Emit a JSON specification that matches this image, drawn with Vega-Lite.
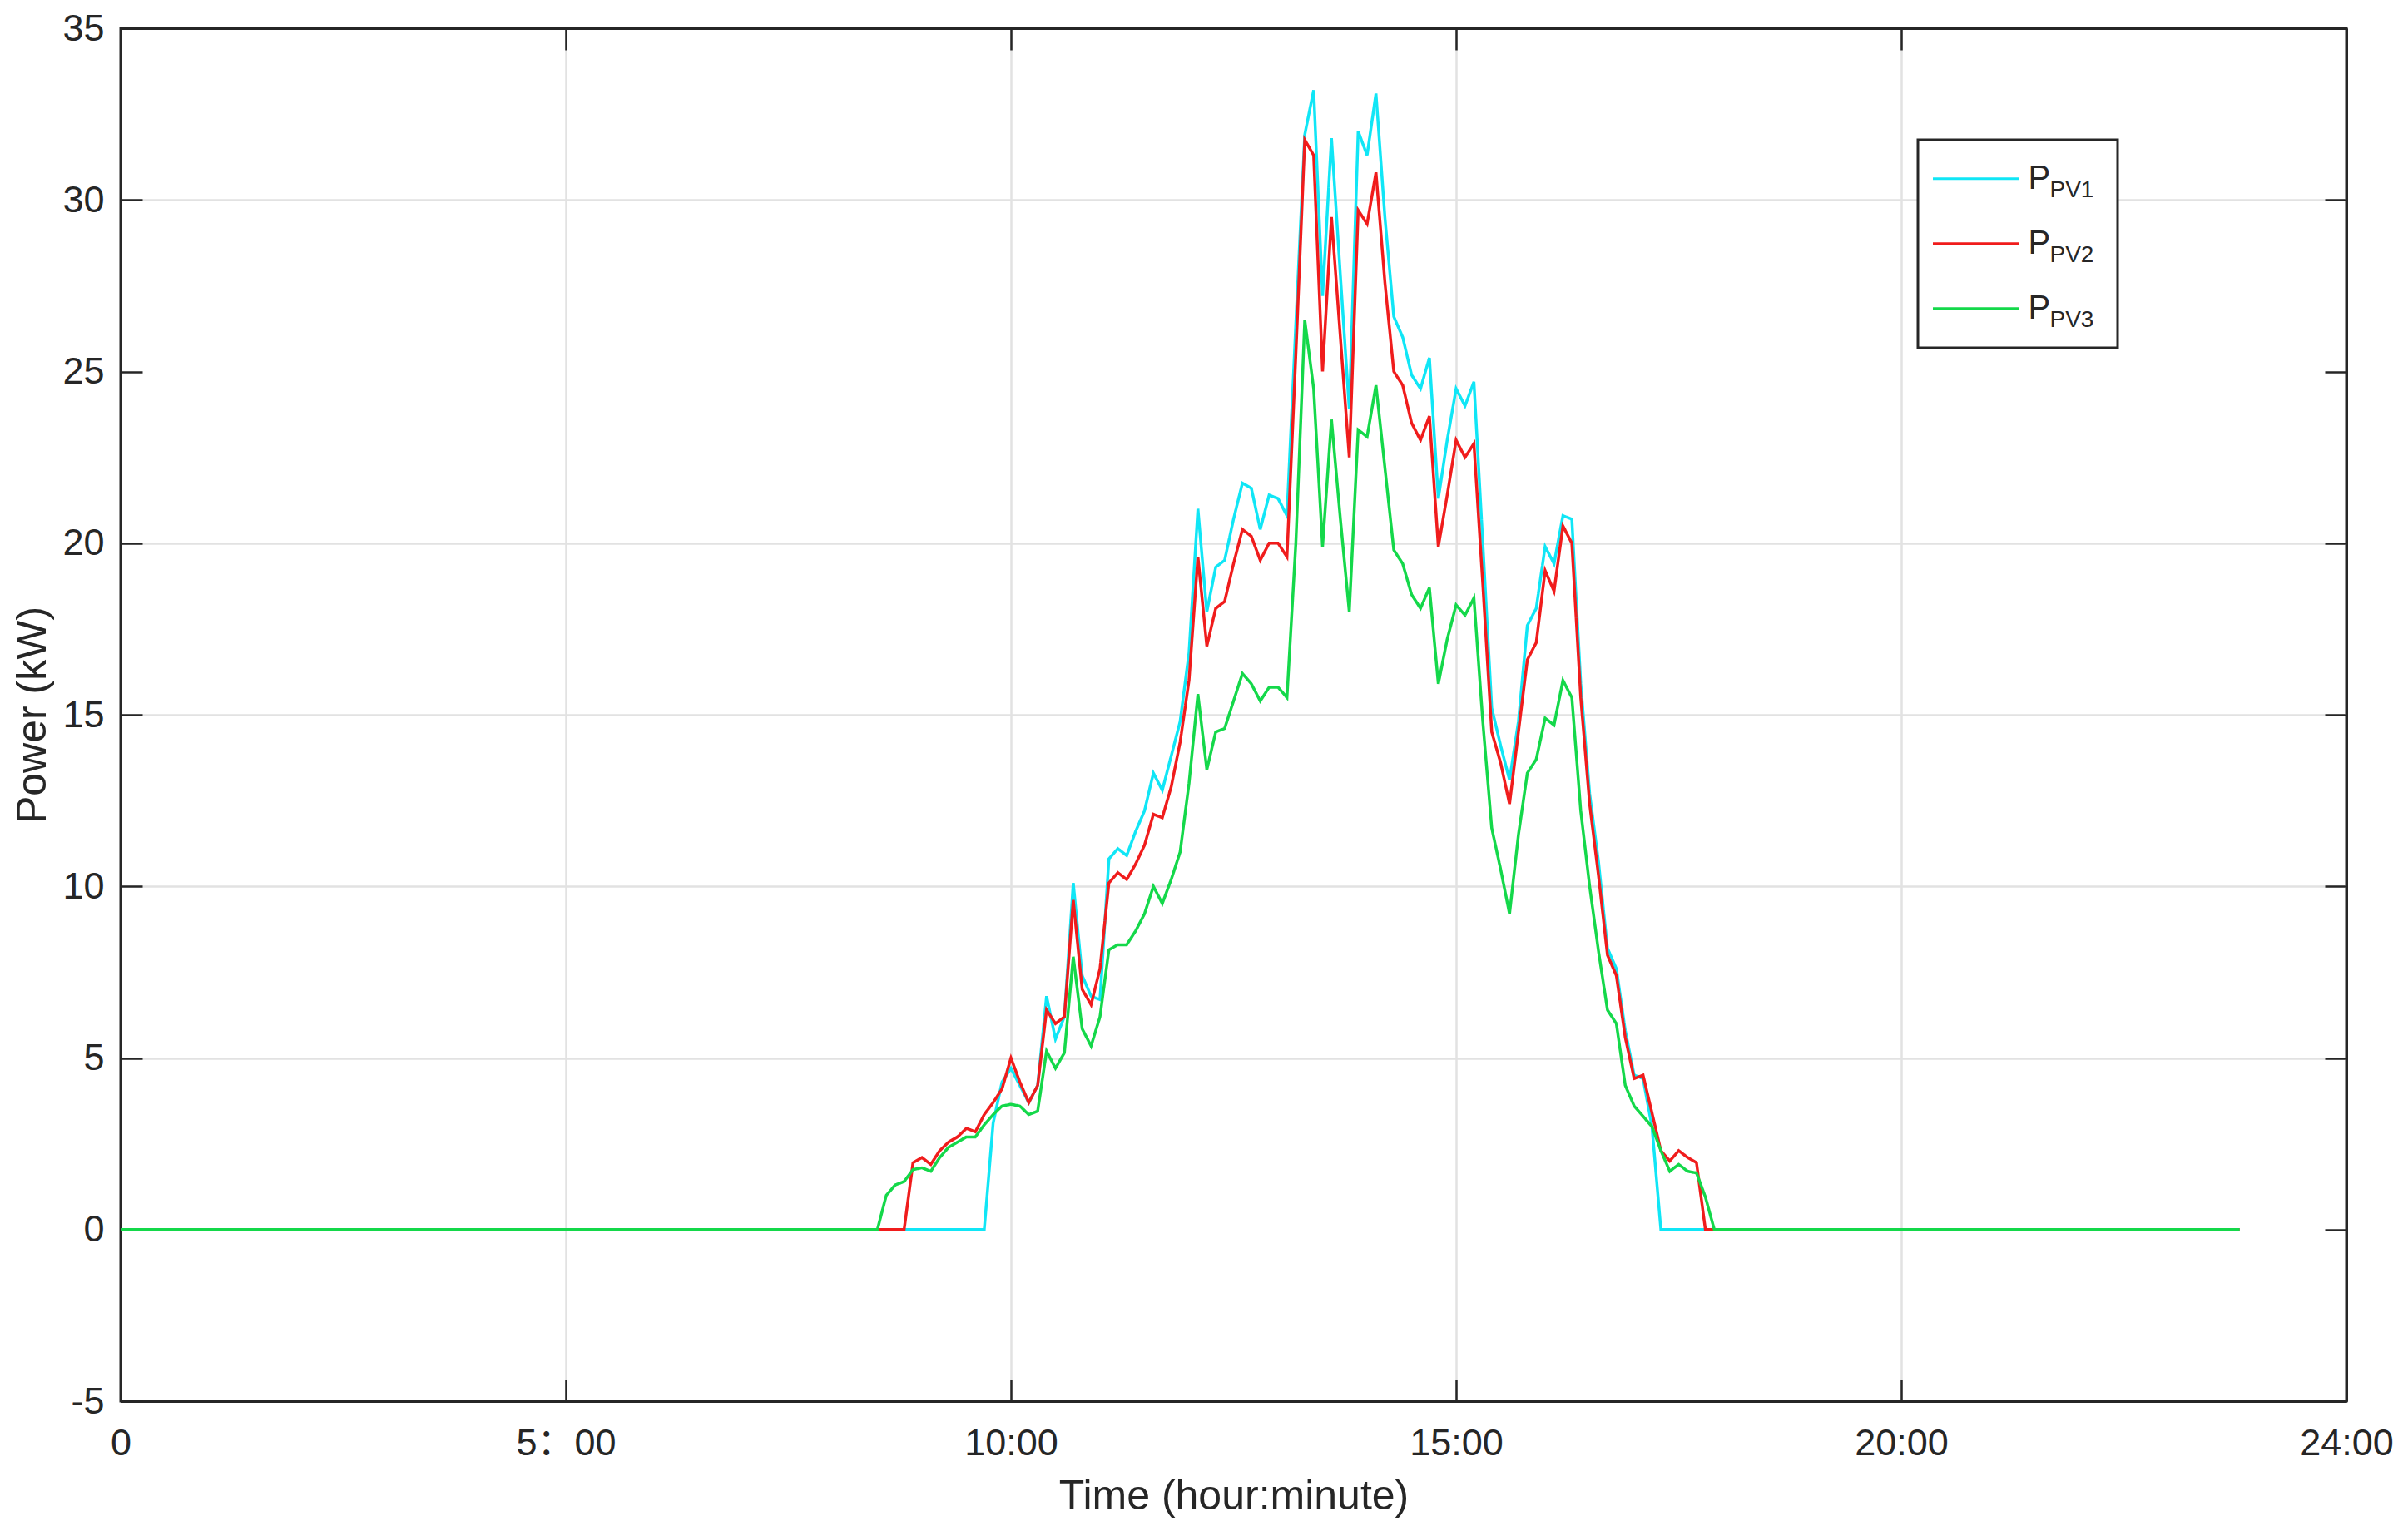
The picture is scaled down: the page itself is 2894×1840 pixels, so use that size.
{
  "$schema": "https://vega.github.io/schema/vega-lite/v6.json",
  "width": 2675,
  "height": 1650,
  "autosize": {"type": "none"},
  "padding": {"left": 145, "top": 34, "right": 74, "bottom": 156},
  "background": "white",
  "data": {"values": [
    {"h":0,"PV1":0,"PV2":0,"PV3":0},{"h":0.1,"PV1":0,"PV2":0,"PV3":0},{"h":0.2,"PV1":0,"PV2":0,"PV3":0},{"h":0.3,"PV1":0,"PV2":0,"PV3":0},{"h":0.4,"PV1":0,"PV2":0,"PV3":0},{"h":0.5,"PV1":0,"PV2":0,"PV3":0},{"h":0.6,"PV1":0,"PV2":0,"PV3":0},{"h":0.7,"PV1":0,"PV2":0,"PV3":0},{"h":0.8,"PV1":0,"PV2":0,"PV3":0},{"h":0.9,"PV1":0,"PV2":0,"PV3":0},
    {"h":1,"PV1":0,"PV2":0,"PV3":0},{"h":1.1,"PV1":0,"PV2":0,"PV3":0},{"h":1.2,"PV1":0,"PV2":0,"PV3":0},{"h":1.3,"PV1":0,"PV2":0,"PV3":0},{"h":1.4,"PV1":0,"PV2":0,"PV3":0},{"h":1.5,"PV1":0,"PV2":0,"PV3":0},{"h":1.6,"PV1":0,"PV2":0,"PV3":0},{"h":1.7,"PV1":0,"PV2":0,"PV3":0},{"h":1.8,"PV1":0,"PV2":0,"PV3":0},{"h":1.9,"PV1":0,"PV2":0,"PV3":0},
    {"h":2,"PV1":0,"PV2":0,"PV3":0},{"h":2.1,"PV1":0,"PV2":0,"PV3":0},{"h":2.2,"PV1":0,"PV2":0,"PV3":0},{"h":2.3,"PV1":0,"PV2":0,"PV3":0},{"h":2.4,"PV1":0,"PV2":0,"PV3":0},{"h":2.5,"PV1":0,"PV2":0,"PV3":0},{"h":2.6,"PV1":0,"PV2":0,"PV3":0},{"h":2.7,"PV1":0,"PV2":0,"PV3":0},{"h":2.8,"PV1":0,"PV2":0,"PV3":0},{"h":2.9,"PV1":0,"PV2":0,"PV3":0},
    {"h":3,"PV1":0,"PV2":0,"PV3":0},{"h":3.1,"PV1":0,"PV2":0,"PV3":0},{"h":3.2,"PV1":0,"PV2":0,"PV3":0},{"h":3.3,"PV1":0,"PV2":0,"PV3":0},{"h":3.4,"PV1":0,"PV2":0,"PV3":0},{"h":3.5,"PV1":0,"PV2":0,"PV3":0},{"h":3.6,"PV1":0,"PV2":0,"PV3":0},{"h":3.7,"PV1":0,"PV2":0,"PV3":0},{"h":3.8,"PV1":0,"PV2":0,"PV3":0},{"h":3.9,"PV1":0,"PV2":0,"PV3":0},
    {"h":4,"PV1":0,"PV2":0,"PV3":0},{"h":4.1,"PV1":0,"PV2":0,"PV3":0},{"h":4.2,"PV1":0,"PV2":0,"PV3":0},{"h":4.3,"PV1":0,"PV2":0,"PV3":0},{"h":4.4,"PV1":0,"PV2":0,"PV3":0},{"h":4.5,"PV1":0,"PV2":0,"PV3":0},{"h":4.6,"PV1":0,"PV2":0,"PV3":0},{"h":4.7,"PV1":0,"PV2":0,"PV3":0},{"h":4.8,"PV1":0,"PV2":0,"PV3":0},{"h":4.9,"PV1":0,"PV2":0,"PV3":0},
    {"h":5,"PV1":0,"PV2":0,"PV3":0},{"h":5.1,"PV1":0,"PV2":0,"PV3":0},{"h":5.2,"PV1":0,"PV2":0,"PV3":0},{"h":5.3,"PV1":0,"PV2":0,"PV3":0},{"h":5.4,"PV1":0,"PV2":0,"PV3":0},{"h":5.5,"PV1":0,"PV2":0,"PV3":0},{"h":5.6,"PV1":0,"PV2":0,"PV3":0},{"h":5.7,"PV1":0,"PV2":0,"PV3":0},{"h":5.8,"PV1":0,"PV2":0,"PV3":0},{"h":5.9,"PV1":0,"PV2":0,"PV3":0},
    {"h":6,"PV1":0,"PV2":0,"PV3":0},{"h":6.1,"PV1":0,"PV2":0,"PV3":0},{"h":6.2,"PV1":0,"PV2":0,"PV3":0},{"h":6.3,"PV1":0,"PV2":0,"PV3":0},{"h":6.4,"PV1":0,"PV2":0,"PV3":0},{"h":6.5,"PV1":0,"PV2":0,"PV3":0},{"h":6.6,"PV1":0,"PV2":0,"PV3":0},{"h":6.7,"PV1":0,"PV2":0,"PV3":0},{"h":6.8,"PV1":0,"PV2":0,"PV3":0},{"h":6.9,"PV1":0,"PV2":0,"PV3":0},
    {"h":7,"PV1":0,"PV2":0,"PV3":0},{"h":7.1,"PV1":0,"PV2":0,"PV3":0},{"h":7.2,"PV1":0,"PV2":0,"PV3":0},{"h":7.3,"PV1":0,"PV2":0,"PV3":0},{"h":7.4,"PV1":0,"PV2":0,"PV3":0},{"h":7.5,"PV1":0,"PV2":0,"PV3":0},{"h":7.6,"PV1":0,"PV2":0,"PV3":0},{"h":7.7,"PV1":0,"PV2":0,"PV3":0},{"h":7.8,"PV1":0,"PV2":0,"PV3":0},{"h":7.9,"PV1":0,"PV2":0,"PV3":0},
    {"h":8,"PV1":0,"PV2":0,"PV3":0},{"h":8.1,"PV1":0,"PV2":0,"PV3":0},{"h":8.2,"PV1":0,"PV2":0,"PV3":0},{"h":8.3,"PV1":0,"PV2":0,"PV3":0},{"h":8.4,"PV1":0,"PV2":0,"PV3":0},{"h":8.5,"PV1":0,"PV2":0,"PV3":0},
    {"h":8.6,"PV1":0,"PV2":0,"PV3":1.0},{"h":8.7,"PV1":0,"PV2":0,"PV3":1.3},{"h":8.8,"PV1":0,"PV2":0,"PV3":1.4},{"h":8.9,"PV1":0,"PV2":1.95,"PV3":1.75},
    {"h":9,"PV1":0,"PV2":2.1,"PV3":1.8},{"h":9.1,"PV1":0,"PV2":1.9,"PV3":1.7},{"h":9.2,"PV1":0,"PV2":2.3,"PV3":2.1},{"h":9.3,"PV1":0,"PV2":2.55,"PV3":2.4},{"h":9.4,"PV1":0,"PV2":2.7,"PV3":2.55},{"h":9.5,"PV1":0,"PV2":2.95,"PV3":2.7},{"h":9.6,"PV1":0,"PV2":2.85,"PV3":2.7},{"h":9.7,"PV1":0,"PV2":3.35,"PV3":3.05},{"h":9.8,"PV1":3.1,"PV2":3.7,"PV3":3.35},{"h":9.9,"PV1":4.3,"PV2":4.1,"PV3":3.6},
    {"h":10,"PV1":4.7,"PV2":5.0,"PV3":3.65},{"h":10.1,"PV1":4.2,"PV2":4.3,"PV3":3.6},{"h":10.2,"PV1":3.7,"PV2":3.7,"PV3":3.35},{"h":10.3,"PV1":4.2,"PV2":4.2,"PV3":3.45},{"h":10.4,"PV1":6.8,"PV2":6.4,"PV3":5.2},{"h":10.5,"PV1":5.55,"PV2":6.0,"PV3":4.7},{"h":10.6,"PV1":6.2,"PV2":6.2,"PV3":5.15},{"h":10.7,"PV1":10.1,"PV2":9.6,"PV3":7.95},{"h":10.8,"PV1":7.4,"PV2":7.0,"PV3":5.85},{"h":10.9,"PV1":6.8,"PV2":6.55,"PV3":5.35},
    {"h":11,"PV1":6.7,"PV2":7.6,"PV3":6.2},{"h":11.1,"PV1":10.8,"PV2":10.1,"PV3":8.15},{"h":11.2,"PV1":11.1,"PV2":10.4,"PV3":8.3},{"h":11.3,"PV1":10.9,"PV2":10.2,"PV3":8.3},{"h":11.4,"PV1":11.6,"PV2":10.65,"PV3":8.7},{"h":11.5,"PV1":12.2,"PV2":11.2,"PV3":9.2},{"h":11.6,"PV1":13.3,"PV2":12.1,"PV3":10.0},{"h":11.7,"PV1":12.8,"PV2":12.0,"PV3":9.5},{"h":11.8,"PV1":13.8,"PV2":12.9,"PV3":10.2},{"h":11.9,"PV1":14.8,"PV2":14.2,"PV3":11.0},
    {"h":12,"PV1":16.8,"PV2":16.0,"PV3":13.0},{"h":12.1,"PV1":21.0,"PV2":19.6,"PV3":15.6},{"h":12.2,"PV1":18.0,"PV2":17.0,"PV3":13.4},{"h":12.3,"PV1":19.3,"PV2":18.1,"PV3":14.5},{"h":12.4,"PV1":19.5,"PV2":18.3,"PV3":14.6},{"h":12.5,"PV1":20.7,"PV2":19.4,"PV3":15.4},{"h":12.6,"PV1":21.75,"PV2":20.4,"PV3":16.2},{"h":12.7,"PV1":21.6,"PV2":20.2,"PV3":15.9},{"h":12.8,"PV1":20.4,"PV2":19.5,"PV3":15.4},{"h":12.9,"PV1":21.4,"PV2":20.0,"PV3":15.8},
    {"h":13,"PV1":21.3,"PV2":20.0,"PV3":15.8},{"h":13.1,"PV1":20.8,"PV2":19.6,"PV3":15.5},{"h":13.2,"PV1":26.4,"PV2":25.5,"PV3":20.0},{"h":13.3,"PV1":31.9,"PV2":31.75,"PV3":26.5},{"h":13.4,"PV1":33.2,"PV2":31.3,"PV3":24.5},{"h":13.5,"PV1":27.2,"PV2":25.0,"PV3":19.9},{"h":13.6,"PV1":31.8,"PV2":29.5,"PV3":23.6},{"h":13.7,"PV1":27.8,"PV2":26.0,"PV3":20.7},{"h":13.8,"PV1":23.9,"PV2":22.5,"PV3":18.0},{"h":13.9,"PV1":32.0,"PV2":29.7,"PV3":23.3},
    {"h":14,"PV1":31.3,"PV2":29.3,"PV3":23.1},{"h":14.1,"PV1":33.1,"PV2":30.8,"PV3":24.6},{"h":14.2,"PV1":29.5,"PV2":27.6,"PV3":22.2},{"h":14.3,"PV1":26.6,"PV2":25.0,"PV3":19.8},{"h":14.4,"PV1":26.0,"PV2":24.6,"PV3":19.4},{"h":14.5,"PV1":24.9,"PV2":23.5,"PV3":18.5},{"h":14.6,"PV1":24.5,"PV2":23.0,"PV3":18.1},{"h":14.7,"PV1":25.4,"PV2":23.7,"PV3":18.7},{"h":14.8,"PV1":21.3,"PV2":19.9,"PV3":15.9},{"h":14.9,"PV1":23.0,"PV2":21.4,"PV3":17.2},
    {"h":15,"PV1":24.5,"PV2":23.0,"PV3":18.2},{"h":15.1,"PV1":24.0,"PV2":22.5,"PV3":17.9},{"h":15.2,"PV1":24.7,"PV2":22.9,"PV3":18.4},{"h":15.3,"PV1":20.0,"PV2":18.8,"PV3":14.8},{"h":15.4,"PV1":15.2,"PV2":14.5,"PV3":11.7},{"h":15.5,"PV1":14.1,"PV2":13.6,"PV3":10.5},{"h":15.6,"PV1":13.1,"PV2":12.4,"PV3":9.2},{"h":15.7,"PV1":14.8,"PV2":14.5,"PV3":11.5},{"h":15.8,"PV1":17.6,"PV2":16.6,"PV3":13.3},{"h":15.9,"PV1":18.1,"PV2":17.1,"PV3":13.7},
    {"h":16,"PV1":19.9,"PV2":19.2,"PV3":14.9},{"h":16.1,"PV1":19.4,"PV2":18.6,"PV3":14.7},{"h":16.2,"PV1":20.8,"PV2":20.5,"PV3":16.0},{"h":16.3,"PV1":20.7,"PV2":20.0,"PV3":15.5},{"h":16.4,"PV1":15.9,"PV2":15.5,"PV3":12.2},{"h":16.5,"PV1":12.7,"PV2":12.4,"PV3":10.0},{"h":16.6,"PV1":10.7,"PV2":10.3,"PV3":8.1},{"h":16.7,"PV1":8.2,"PV2":8.0,"PV3":6.4},{"h":16.8,"PV1":7.6,"PV2":7.4,"PV3":6.0},{"h":16.9,"PV1":5.8,"PV2":5.6,"PV3":4.2},
    {"h":17,"PV1":4.5,"PV2":4.4,"PV3":3.6},{"h":17.1,"PV1":4.4,"PV2":4.5,"PV3":3.3},{"h":17.2,"PV1":3.0,"PV2":3.4,"PV3":3.0},{"h":17.3,"PV1":0,"PV2":2.3,"PV3":2.3},{"h":17.4,"PV1":0,"PV2":2.0,"PV3":1.7},{"h":17.5,"PV1":0,"PV2":2.3,"PV3":1.9},{"h":17.6,"PV1":0,"PV2":2.1,"PV3":1.7},{"h":17.7,"PV1":0,"PV2":1.95,"PV3":1.65},{"h":17.8,"PV1":0,"PV2":0,"PV3":0.95},{"h":17.9,"PV1":0,"PV2":0,"PV3":0},
    {"h":18,"PV1":0,"PV2":0,"PV3":0},{"h":18.1,"PV1":0,"PV2":0,"PV3":0},{"h":18.2,"PV1":0,"PV2":0,"PV3":0},{"h":18.3,"PV1":0,"PV2":0,"PV3":0},{"h":18.4,"PV1":0,"PV2":0,"PV3":0},{"h":18.5,"PV1":0,"PV2":0,"PV3":0},{"h":18.6,"PV1":0,"PV2":0,"PV3":0},{"h":18.7,"PV1":0,"PV2":0,"PV3":0},{"h":18.8,"PV1":0,"PV2":0,"PV3":0},{"h":18.9,"PV1":0,"PV2":0,"PV3":0},
    {"h":19,"PV1":0,"PV2":0,"PV3":0},{"h":19.1,"PV1":0,"PV2":0,"PV3":0},{"h":19.2,"PV1":0,"PV2":0,"PV3":0},{"h":19.3,"PV1":0,"PV2":0,"PV3":0},{"h":19.4,"PV1":0,"PV2":0,"PV3":0},{"h":19.5,"PV1":0,"PV2":0,"PV3":0},{"h":19.6,"PV1":0,"PV2":0,"PV3":0},{"h":19.7,"PV1":0,"PV2":0,"PV3":0},{"h":19.8,"PV1":0,"PV2":0,"PV3":0},{"h":19.9,"PV1":0,"PV2":0,"PV3":0},
    {"h":20,"PV1":0,"PV2":0,"PV3":0},{"h":20.1,"PV1":0,"PV2":0,"PV3":0},{"h":20.2,"PV1":0,"PV2":0,"PV3":0},{"h":20.3,"PV1":0,"PV2":0,"PV3":0},{"h":20.4,"PV1":0,"PV2":0,"PV3":0},{"h":20.5,"PV1":0,"PV2":0,"PV3":0},{"h":20.6,"PV1":0,"PV2":0,"PV3":0},{"h":20.7,"PV1":0,"PV2":0,"PV3":0},{"h":20.8,"PV1":0,"PV2":0,"PV3":0},{"h":20.9,"PV1":0,"PV2":0,"PV3":0},
    {"h":21,"PV1":0,"PV2":0,"PV3":0},{"h":21.1,"PV1":0,"PV2":0,"PV3":0},{"h":21.2,"PV1":0,"PV2":0,"PV3":0},{"h":21.3,"PV1":0,"PV2":0,"PV3":0},{"h":21.4,"PV1":0,"PV2":0,"PV3":0},{"h":21.5,"PV1":0,"PV2":0,"PV3":0},{"h":21.6,"PV1":0,"PV2":0,"PV3":0},{"h":21.7,"PV1":0,"PV2":0,"PV3":0},{"h":21.8,"PV1":0,"PV2":0,"PV3":0},{"h":21.9,"PV1":0,"PV2":0,"PV3":0},
    {"h":22,"PV1":0,"PV2":0,"PV3":0},{"h":22.1,"PV1":0,"PV2":0,"PV3":0},{"h":22.2,"PV1":0,"PV2":0,"PV3":0},{"h":22.3,"PV1":0,"PV2":0,"PV3":0},{"h":22.4,"PV1":0,"PV2":0,"PV3":0},{"h":22.5,"PV1":0,"PV2":0,"PV3":0},{"h":22.6,"PV1":0,"PV2":0,"PV3":0},{"h":22.7,"PV1":0,"PV2":0,"PV3":0},{"h":22.8,"PV1":0,"PV2":0,"PV3":0},{"h":22.9,"PV1":0,"PV2":0,"PV3":0},
    {"h":23,"PV1":0,"PV2":0,"PV3":0},{"h":23.1,"PV1":0,"PV2":0,"PV3":0},{"h":23.2,"PV1":0,"PV2":0,"PV3":0},{"h":23.3,"PV1":0,"PV2":0,"PV3":0},{"h":23.4,"PV1":0,"PV2":0,"PV3":0},{"h":23.5,"PV1":0,"PV2":0,"PV3":0},{"h":23.6,"PV1":0,"PV2":0,"PV3":0},{"h":23.7,"PV1":0,"PV2":0,"PV3":0},{"h":23.8,"PV1":0,"PV2":0,"PV3":0}
  ]},
  "transform": [{"fold": ["PV1", "PV2", "PV3"], "as": ["series", "power"]}],
  "layer": [
    {
      "mark": {"type": "line", "strokeWidth": 3.5, "clip": true},
      "encoding": {
        "x": {"field": "h", "type": "quantitative",
          "scale": {"domain": [0, 25], "nice": false, "zero": false},
          "axis": {"orient": "bottom", "values": [0, 5, 10, 15, 20, 25], "labelFlush": false,
            "labelFont": "Liberation Sans, Noto Sans CJK SC",
            "labelExpr": "datum.value == 0 ? '0' : datum.value == 5 ? '5\uff1a00' : datum.value == 25 ? '24:00' : datum.value + ':00'",
            "labelPadding": 54, "title": "Time (hour:minute)", "titlePadding": 16}},
        "y": {"field": "power", "type": "quantitative",
          "scale": {"domain": [-5, 35], "nice": false, "zero": false},
          "axis": {"orient": "left", "values": [-5, 0, 5, 10, 15, 20, 25, 30, 35],
            "labelExpr": "'' + datum.value",
            "labelPadding": 46, "title": "Power (kW)", "titlePadding": 10}},
        "color": {"field": "series", "type": "nominal",
          "scale": {"range": ["#10e6f6", "#f01c1c", "#14d84a"]},
          "legend": {"orient": "none", "legendX": 2160, "legendY": 134, "direction": "vertical", "title": null,
            "symbolType": "stroke", "symbolStrokeWidth": 3, "symbolSize": 10816, "symbolOffset": 8.5,
            "clipHeight": 77.5, "padding": 8, "rowPadding": 0,
            "labelFontSize": 40, "labelFont": "Liberation Sans", "labelColor": "#262626",
            "labelBaseline": "middle", "labelExpr": "'P'",
            "labelOffset": 9, "labelLimit": 0,
            "strokeColor": "transparent", "fillColor": "transparent", "zindex": 2}},
        "strokeDash": {"field": "series", "type": "nominal",
          "scale": {"domain": ["PV1", "PV2", "PV3"], "range": [[1, 0], [1, 0], [1, 0]]},
          "legend": {"orient": "none", "legendX": 2160, "legendY": 134, "direction": "vertical", "title": null,
            "symbolType": "stroke", "symbolStrokeWidth": 3, "symbolSize": 10816, "symbolOffset": 8.5,
            "symbolOpacity": 0,
            "clipHeight": 77.5, "padding": 8, "rowPadding": 0,
            "labelFontSize": 28, "labelFont": "Liberation Sans, DejaVu Sans", "labelColor": "#262626",
            "labelBaseline": "top", "labelOffset": 35, "labelLimit": 0,
            "labelExpr": "datum.label + '\u2800'",
            "strokeColor": "#262626", "fillColor": "white", "zindex": 1}}
      }
    },
    {
      "mark": {"type": "point", "opacity": 0},
      "encoding": {
        "x": {"field": "h", "type": "quantitative",
          "scale": {"domain": [0, 25], "nice": false, "zero": false},
          "axis": {"orient": "top", "values": [0, 5, 10, 15, 20, 25], "labels": false, "grid": false, "title": null}},
        "y": {"field": "power", "type": "quantitative",
          "scale": {"domain": [-5, 35], "nice": false, "zero": false},
          "axis": {"orient": "right", "values": [-5, 0, 5, 10, 15, 20, 25, 30, 35], "labels": false, "grid": false, "title": null}}
      }
    }
  ],
  "resolve": {"axis": {"x": "independent", "y": "independent"}},
  "config": {
    "view": {"stroke": "#262626", "strokeWidth": 3},
    "axis": {
      "domain": true,
      "domainColor": "#262626",
      "domainWidth": 3,
      "grid": true,
      "gridColor": "#e2e2e2",
      "gridWidth": 2.5,
      "gridOpacity": {"condition": {"test": "datum.value == 0 || datum.value == 25 || datum.value == -5 || datum.value == 35", "value": 0}, "value": 1},
      "tickColor": "#262626",
      "tickWidth": 2.5,
      "tickSize": -26,
      "labelFont": "Liberation Sans",
      "labelFontSize": 45,
      "labelColor": "#262626",
      "titleFont": "Liberation Sans",
      "titleFontSize": 50,
      "titleFontWeight": "normal",
      "titleColor": "#262626"
    },
    "legend": {"strokeWidth": 3}
  }
}
